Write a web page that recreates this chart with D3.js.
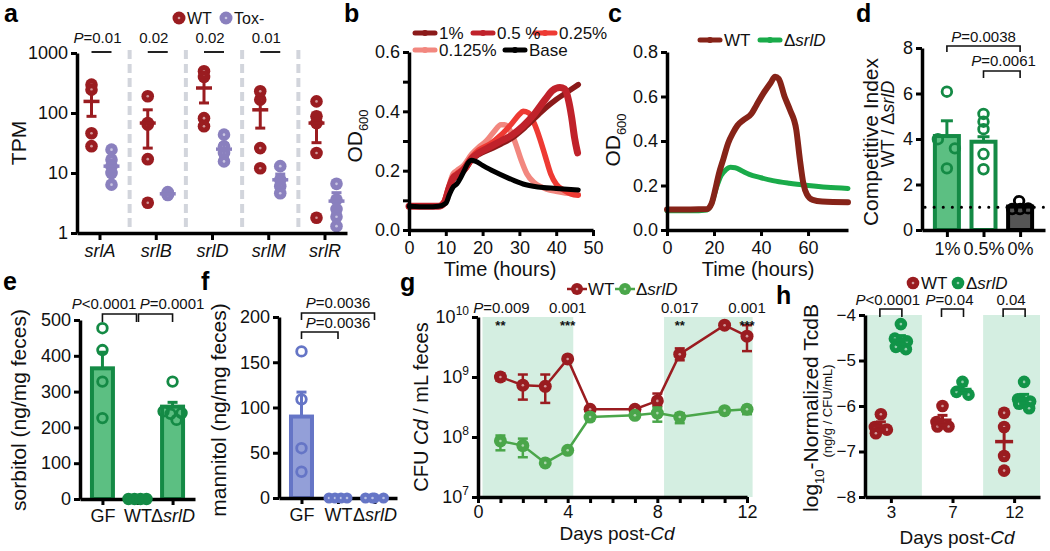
<!DOCTYPE html>
<html><head><meta charset="utf-8">
<script src="https://cdn.jsdelivr.net/npm/d3@7"></script>
<style>body{margin:0;background:#fff}</style>
</head><body><svg id="c" width="1050" height="551"></svg>
<script>
// ================= DATA =================
// panel a
const aGenes = ["srlA","srlB","srlD","srlM","srlR"];
const aWTPoints = [[297,245,46,28],[190,68,64,17,3.2],[495,400,82,60],[230,167,26,12],[156,88,68,21.5,1.8]];
const aWTMean = [156,68,261,113,68];
const aWTLo = [88,26,147,56,32];
const aWTHi = [224,113,400,175,100];
const aToxPoints = [[24.5,16.7,13,10,6.4],[4.8,4.6,4.4,4.3],[43.6,27.8,21.5,15.6],[13,7.7,6,4.6],[6.6,3.6,2.5,1.87,1.3]];
const aToxMean = [13,4.5,25,7.7,3.4];
const aToxLo = [9.5,4.3,19,5.8,2.1];
const aToxHi = [16.5,4.7,31,9.6,4.7];
const aP = ["P=0.01","0.02","0.02","0.01"];
const aYTicks = [1,10,100,1000];

// panel b
const bSeries = ["1%","0.5 %","0.25%","0.125%","Base"];
const b1 = [[0,0.08],[8,0.08],[9.5,0.09],[11,0.14],[12,0.17],[13,0.18],[15,0.2],[17,0.235],[19,0.255],[22,0.272],[25,0.29],[28,0.31],[31,0.34],[34,0.375],[37,0.41],[40,0.44],[43,0.465],[46,0.49]];
const b05 = [[0,0.08],[8,0.08],[9.5,0.09],[11,0.145],[12,0.175],[13,0.185],[15,0.205],[17,0.24],[19,0.26],[22,0.28],[25,0.3],[28,0.32],[31,0.35],[34,0.39],[37,0.44],[39,0.47],[41,0.48],[42.3,0.475],[43.3,0.44],[44.2,0.38],[45,0.31],[45.8,0.26]];
const b025 = [[0,0.08],[8,0.08],[9.5,0.095],[11,0.15],[12,0.18],[13,0.19],[15,0.21],[17,0.245],[19,0.27],[22,0.29],[25,0.32],[28,0.36],[30,0.39],[31,0.4],[32.5,0.395],[34,0.36],[35.5,0.31],[37,0.25],[38.5,0.19],[40,0.155],[42,0.135],[44,0.122],[46,0.117]];
const b0125 = [[0,0.08],[8,0.08],[9.5,0.095],[11,0.155],[12,0.19],[13,0.2],[15,0.22],[17,0.255],[19,0.28],[21,0.3],[23,0.33],[25,0.355],[26,0.355],[27.5,0.335],[29,0.29],[30.5,0.235],[32,0.19],[34,0.16],[36,0.145],[40,0.13],[46,0.12]];
const bBase = [[0,0.08],[5,0.078],[8,0.08],[10,0.09],[11,0.12],[12,0.145],[13,0.155],[14,0.175],[15,0.2],[16,0.225],[17,0.235],[18,0.232],[20,0.218],[23,0.198],[27,0.175],[31,0.155],[35,0.145],[40,0.14],[46,0.135]];
const bXTicks = [0,10,20,30,40,50];
const bYTicks = [0,0.1,0.2,0.3,0.4,0.5,0.6];

// panel c
const cWT = [[0,0.092],[10,0.092],[17,0.094],[19,0.12],[20.5,0.18],[22,0.25],[24,0.32],[26,0.39],[28,0.435],[30,0.47],[32.5,0.494],[36,0.524],[38,0.56],[41,0.614],[44,0.66],[46,0.689],[47.5,0.68],[50,0.6],[52.3,0.54],[55,0.45],[56.5,0.32],[58,0.21],[59.5,0.16],[62,0.135],[66,0.128],[77,0.125]];
const cKO = [[0,0.086],[10,0.086],[17,0.09],[19,0.12],[21,0.19],[23,0.245],[25,0.27],[27,0.282],[29,0.28],[32,0.265],[35,0.25],[40,0.235],[45,0.222],[52,0.21],[60,0.2],[68,0.192],[77,0.187]];
const cXTicks = [0,20,40,60];
const cYTicks = [0,0.2,0.4,0.6,0.8];

// panel d
const dCats = ["1%","0.5%","0%"];
const dMean = [4.13,3.88,1.03];
const dHi = [4.8,4.1,1.1];
const dPoints = [[6.08,3.99,3.59,2.71],[5.1,4.76,4.43,3.34,2.67],[1.27,0.92,0.92,0.95]];
const dYTicks = [0,2,4,6,8];

// panel e
const eCats = ["GF","WT","ΔsrlD"];
const eMean = [365,0,258];
const eHi = [410,0,270];
const ePoints = [[477,416,328,226],[0,0,0,0],[328,245,240,238,221]];
const eYTicks = [0,100,200,300,400,500];

// panel f
const fCats = ["GF","WT","ΔsrlD"];
const fMean = [90,0,0];
const fHi = [117,0,0];
const fPoints = [[162,109,55,29],[0,0,0,0],[0,0,0,0]];
const fYTicks = [0,50,100,150,200];

// panel g
const gDays = [1,2,3,4,5,7,8,9,11,12];
const gWT = [1.0e9,7.3e8,7.0e8,2.0e9,2.9e8,2.9e8,4.0e8,2.4e9,7.3e9,4.8e9];
const gWTHi = [1.15e9,1.1e9,1.1e9,2.1e9,3.0e8,3.0e8,5.3e8,3.0e9,7.6e9,7.3e9];
const gWTLo = [0.87e9,4.2e8,3.7e8,1.9e9,2.7e8,2.8e8,3.3e8,1.9e9,7.0e9,2.7e9];
const gKO = [8.6e7,7.2e7,3.7e7,6.0e7,2.15e8,2.3e8,2.5e8,2.15e8,2.75e8,2.9e8];
const gKOHi = [1.06e8,9.4e7,3.9e7,6.3e7,2.5e8,2.4e8,3.1e8,2.5e8,2.85e8,3.3e8];
const gKOLo = [6.0e7,4.6e7,3.5e7,5.7e7,1.9e8,2.2e8,1.8e8,1.7e8,2.65e8,2.4e8];
const gShade = [[0.2,4.25],[8.3,12.25]];
const gPDays = [1,4,9,12];
const gP = ["P=0.009","0.001","0.017","0.001"];
const gStars = ["**","***","**","***"];
const gYTicks = [7,8,9,10];

// panel h
const hDays = ["3","7","12"];
const hWT = [[-6.18,-6.46,-6.52,-6.6],[-6.0,-6.35,-6.45,-6.45],[-6.15,-6.46,-7.1,-7.42]];
const hKO = [[-4.2,-4.52,-4.58,-4.7,-4.75],[-5.47,-5.69,-5.75],[-5.47,-5.85,-5.9,-5.95,-6.05]];
const hShadeDays = ["3","12"];
const hP = ["P<0.0001","P=0.04","0.04"];
const hYTicks = [-8,-7,-6,-5,-4];

// ================= STYLE =================
const FAM = '"Liberation Sans", Arial, Helvetica, sans-serif';
const TF = 17;
const C = {wt:"#9a1c20", tox:"#8a80be", grn:"#148a45", grnL:"#5cbf82", blu:"#6575c6", bluL:"#939fd8",
  gGrn:"#4aa64a", hGrn:"#119448", shade:"#d4eee1", sep:"#d2d5dc",
  b1:"#8b1a1a", b05:"#c0222b", b025:"#ee3a33", b0125:"#f2877f", base:"#000",
  cWT:"#862318", cKO:"#1aab4a"};

const svg = d3.select("#c").attr("font-family", FAM);

function styleAxis(g, fs){
  g.attr("font-family", FAM).attr("font-size", fs||TF);
  g.select(".domain").attr("stroke","#000").attr("stroke-width",3.5);
  g.selectAll(".tick line").attr("stroke","#000").attr("stroke-width",3);
  g.selectAll(".tick text").attr("fill","#111");
  return g;
}
function rich(t, parts){
  parts.forEach(p=>{
    const ts = t.append("tspan").text(p.t);
    if (p.i) ts.attr("font-style","italic");
    if (p.dy) ts.attr("dy", p.dy);
    if (p.fs) ts.attr("font-size", p.fs);
  });
  return t;
}
function koParts(){ return [{t:"Δ"},{t:"srlD",i:true}]; }
function pParts(s){ return s.startsWith("P") ? [{t:"P",i:true},{t:s.slice(1)}] : [{t:s}]; }
function label(x,y,s,fs,anchor){
  return svg.append("text").attr("x",x).attr("y",y).attr("font-size",fs).attr("text-anchor",anchor||"middle").attr("fill","#111");
}
function vlabel(x,y,fs){
  return svg.append("text").attr("transform",`translate(${x},${y}) rotate(-90)`).attr("font-size",fs).attr("text-anchor","middle").attr("fill","#111");
}
function dotPt(g,x,y,r,col){
  g.append("circle").attr("cx",x).attr("cy",y).attr("r",r).attr("fill",col);
  g.append("circle").attr("cx",x).attr("cy",y).attr("r",1.3).attr("fill","#fff").attr("opacity",0.55);
}
function meanErr(g,x,m,lo,hi,col,w){
  g.append("line").attr("x1",x).attr("x2",x).attr("y1",lo).attr("y2",hi).attr("stroke",col).attr("stroke-width",3);
  [lo,hi].forEach(v=>g.append("line").attr("x1",x-5).attr("x2",x+5).attr("y1",v).attr("y2",v).attr("stroke",col).attr("stroke-width",3));
  g.append("line").attr("x1",x-w).attr("x2",x+w).attr("y1",m).attr("y2",m).attr("stroke",col).attr("stroke-width",3.5);
}
function bracket(x1,x2,y,leg){
  svg.append("path").attr("d",`M${x1},${y+leg}V${y}H${x2}V${y+leg}`).attr("fill","none").attr("stroke","#111").attr("stroke-width",1.6);
}
// panel letters
[["a",4,22],["b",344,22],["c",608,22],["d",856,22],["e",3,290],["f",201,290],["g",400,291],["h",776,304]].forEach(([s,x,y])=>
  label(x,y,s,25,"start").attr("font-weight","bold").attr("fill","#000").text(s));

// ================= PANEL A =================
{
  const y = d3.scaleLog().domain([1,1000]).range([233,53]);
  const x = d3.scalePoint().domain(aGenes).range([77,347]).padding(0.4);
  const g = svg.append("g");
  for (let i=1;i<aGenes.length;i++){
    const xm = (x(aGenes[i-1])+x(aGenes[i]))/2 + 2;
    g.append("line").attr("x1",xm).attr("x2",xm).attr("y1",50).attr("y2",231)
      .attr("stroke",C.sep).attr("stroke-width",4).attr("stroke-dasharray","9,5");
  }
  aGenes.forEach((gn,i)=>{
    const xw = x(gn)-8, xt = x(gn)+12;
    aWTPoints[i].forEach(v=>dotPt(g,xw,y(v),6.3,C.wt));
    aToxPoints[i].forEach(v=>dotPt(g,xt,y(v),6.3,C.tox));
    meanErr(g,xw,y(aWTMean[i]),y(aWTLo[i]),y(aWTHi[i]),C.wt,8);
    meanErr(g,xt,y(aToxMean[i]),y(aToxLo[i]),y(aToxHi[i]),C.tox,8);
  });
  const ya = g.append("g").attr("transform","translate(77,0)")
    .call(d3.axisLeft(y).tickValues(aYTicks).tickFormat(d3.format("d")).tickSize(6).tickPadding(3).tickSizeOuter(0));
  styleAxis(ya,18);
  const xa = g.append("g").attr("transform","translate(0,233)")
    .call(d3.axisBottom(x).tickSize(7).tickPadding(4).tickSizeOuter(0));
  styleAxis(xa,18); xa.selectAll(".tick text").attr("font-style","italic");
  aGenes.slice(0,4).forEach((gn,i)=>{
    const xw = x(gn)-8, xt = x(gn)+12;
    g.append("line").attr("x1",xw).attr("x2",xt).attr("y1",52).attr("y2",52).attr("stroke","#222").attr("stroke-width",2);
    rich(label(x(gn)-2,43,"",15), pParts(aP[i]));
  });
  rich(vlabel(26,143,21),[{t:"TPM"}]);
  dotPt(g,179,18,6.5,C.wt); label(187,24,"",16,"start").text("WT");
  dotPt(g,226,18,6.5,C.tox); label(234,24,"",16,"start").text("Tox-");
}

// ================= PANEL B =================
{
  const x = d3.scaleLinear().domain([0,50]).range([409,593]);
  const y = d3.scaleLinear().domain([0,0.6]).range([230,52]);
  const g = svg.append("g");
  const line = d3.line().x(d=>x(d[0])).y(d=>y(d[1])).curve(d3.curveMonotoneX);
  const series = [[b0125,C.b0125,5.5],[b025,C.b025,5.5],[b1,C.b1,5.5],[b05,C.b05,7],[bBase,C.base,5]];
  series.forEach(([d,col,w])=>g.append("path").datum(d).attr("d",line).attr("fill","none")
    .attr("stroke",col).attr("stroke-width",w).attr("stroke-linejoin","round").attr("stroke-linecap","round"));
  const ya = g.append("g").attr("transform","translate(409,0)")
    .call(d3.axisLeft(y).tickValues(bYTicks).tickFormat(d=>([0,0.2,0.4,0.6].some(v=>Math.abs(v-d)<1e-9)?d3.format(".1f")(d):"")).tickSize(6).tickPadding(3).tickSizeOuter(0));
  styleAxis(ya,18);
  const xa = g.append("g").attr("transform","translate(0,230)")
    .call(d3.axisBottom(x).tickValues(bXTicks).tickSize(6).tickPadding(5).tickSizeOuter(0));
  styleAxis(xa,18);
  label(500,276,"",20).text("Time (hours)");
  rich(vlabel(362,136,21),[{t:"OD"},{t:"600",dy:6,fs:13}]);
  const leg = [[bSeries[0],C.b1,415,33],[bSeries[1],C.b05,473,33],[bSeries[2],C.b025,535,33],[bSeries[3],C.b0125,415,50],[bSeries[4],C.base,505,50]];
  leg.forEach(([s,col,lx,ly])=>{
    g.append("line").attr("x1",lx).attr("x2",lx+20).attr("y1",ly).attr("y2",ly).attr("stroke",col).attr("stroke-width",5).attr("stroke-linecap","round");
    g.append("circle").attr("cx",lx+10).attr("cy",ly).attr("r",3).attr("fill",col);
    label(lx+24,ly+6,"",17,"start").text(s);
  });
}

// ================= PANEL C =================
{
  const x = d3.scaleLinear().domain([0,77]).range([667,848]);
  const y = d3.scaleLinear().domain([0,0.8]).range([230,52]);
  const g = svg.append("g");
  const line = d3.line().x(d=>x(d[0])).y(d=>y(d[1])).curve(d3.curveMonotoneX);
  g.append("path").datum(cKO).attr("d",line).attr("fill","none").attr("stroke",C.cKO).attr("stroke-width",5).attr("stroke-linecap","round");
  g.append("path").datum(cWT).attr("d",line).attr("fill","none").attr("stroke",C.cWT).attr("stroke-width",6).attr("stroke-linecap","round").attr("stroke-linejoin","round");
  const ya = g.append("g").attr("transform","translate(667,0)")
    .call(d3.axisLeft(y).tickValues(cYTicks).tickFormat(d3.format(".1f")).tickSize(6).tickPadding(3).tickSizeOuter(0));
  styleAxis(ya,18);
  const xa = g.append("g").attr("transform","translate(0,230)")
    .call(d3.axisBottom(x).tickValues(cXTicks).tickSize(6).tickPadding(5).tickSizeOuter(0));
  styleAxis(xa,18);
  label(758,276,"",20).text("Time (hours)");
  rich(vlabel(620,140,21),[{t:"OD"},{t:"600",dy:6,fs:13}]);
  [[C.cWT,700,"WT"],[C.cKO,760,null]].forEach(([col,lx,s])=>{
    g.append("line").attr("x1",lx).attr("x2",lx+20).attr("y1",40).attr("y2",40).attr("stroke",col).attr("stroke-width",5).attr("stroke-linecap","round");
    g.append("circle").attr("cx",lx+10).attr("cy",40).attr("r",3).attr("fill",col);
    const t = label(lx+24,46,"",17,"start");
    if (s) t.text(s); else rich(t,koParts());
  });
}

// ================= PANEL D =================
{
  const x = d3.scalePoint().domain(dCats).range([922,1045]).padding(0.68);
  const y = d3.scaleLinear().domain([0,8]).range([230,48]);
  const g = svg.append("g");
  const bw = 27;
  const fills = [C.grnL,"#fff","#555"], strokes = [C.grn,C.grn,"#000"];
  dCats.forEach((c,i)=>{
    g.append("line").attr("x1",x(c)).attr("x2",x(c)).attr("y1",y(dMean[i])).attr("y2",y(dHi[i])).attr("stroke",strokes[i]).attr("stroke-width",3);
    g.append("line").attr("x1",x(c)-6).attr("x2",x(c)+6).attr("y1",y(dHi[i])).attr("y2",y(dHi[i])).attr("stroke",strokes[i]).attr("stroke-width",3);
    g.append("rect").attr("x",x(c)-bw/2+1.5).attr("y",y(dMean[i])).attr("width",bw-3).attr("height",y(0)-y(dMean[i]))
      .attr("fill",fills[i]).attr("stroke",strokes[i]).attr("stroke-width",4);
  });
  g.append("line").attr("x1",925).attr("x2",1048).attr("y1",y(1)).attr("y2",y(1)).attr("stroke","#000").attr("stroke-width",3).attr("stroke-dasharray","0.1,9").attr("stroke-linecap","round");
  const offs = [[0,-9,8,0],[0,0,0,0,0],[-1,-8,0,8]];
  dCats.forEach((c,i)=>dPoints[i].forEach((v,j)=>
    g.append("circle").attr("cx",x(c)+offs[i][j]).attr("cy",y(v)).attr("r",4.8).attr("fill","none").attr("stroke",strokes[i]).attr("stroke-width",2.8)));
  const ya = g.append("g").attr("transform","translate(922,0)")
    .call(d3.axisLeft(y).tickValues(dYTicks).tickSize(6).tickPadding(3).tickSizeOuter(0));
  styleAxis(ya,18);
  const xa = g.append("g").attr("transform","translate(0,230)")
    .call(d3.axisBottom(x).tickSize(7).tickPadding(5).tickSizeOuter(0));
  styleAxis(xa,18);
  rich(vlabel(878,142,21),[{t:"Competitive Index"}]);
  rich(vlabel(894,124,18),[{t:"WT / Δ"},{t:"srlD",i:true}]);
  bracket(x(dCats[0]),x(dCats[2]),46,6);
  rich(label((x(dCats[0])+x(dCats[2]))/2,42,"",15),pParts("P=0.0038"));
  bracket(x(dCats[1]),x(dCats[2]),71,7);
  rich(label(x(dCats[1])+20,66,"",15),pParts("P=0.0061"));
}

// ================= PANEL E / F =================
function barPanel(cats,mean,hi,pts,ticks,dom,rng,xr,pad,fillC,strokeC,filledZero,ylab,ylx){
  const x = d3.scalePoint().domain(cats).range(xr).padding(pad);
  const y = d3.scaleLinear().domain(dom).range(rng);
  const g = svg.append("g");
  const bw = 25;
  cats.forEach((c,i)=>{
    if (mean[i]>0){
      g.append("line").attr("x1",x(c)).attr("x2",x(c)).attr("y1",y(mean[i])).attr("y2",y(hi[i])).attr("stroke",strokeC).attr("stroke-width",3);
      g.append("line").attr("x1",x(c)-5).attr("x2",x(c)+5).attr("y1",y(hi[i])).attr("y2",y(hi[i])).attr("stroke",strokeC).attr("stroke-width",3);
      g.append("rect").attr("x",x(c)-bw/2+2).attr("y",y(mean[i])).attr("width",bw-4).attr("height",y(0)-y(mean[i]))
        .attr("fill",fillC).attr("stroke",strokeC).attr("stroke-width",4);
    }
  });
  const ya = g.append("g").attr("transform",`translate(${xr[0]},0)`)
    .call(d3.axisLeft(y).tickValues(ticks).tickSize(6).tickPadding(3).tickSizeOuter(0));
  styleAxis(ya,18);
  const xa = g.append("g").attr("transform",`translate(0,${rng[0]})`)
    .call(d3.axisBottom(x).tickSize(6).tickPadding(4).tickSizeOuter(0));
  styleAxis(xa,18);
  xa.selectAll(".tick text").each(function(d){ if (d.startsWith("Δ")){ const t=d3.select(this); t.text(""); rich(t,koParts()); } });
  const offsAll = [[0,0,0,0,0],[-9,-3,3,9],[0,-9,9,-2,4]];
  cats.forEach((c,i)=>pts[i].forEach((v,j)=>{
    const cx = x(c)+(i===0?0:offsAll[i][j]);
    if (v===0 && filledZero) dotPt(g,cx,y(v),5.5,strokeC);
    else g.append("circle").attr("cx",cx).attr("cy",y(v)).attr("r",4.8).attr("fill",v===0?strokeC:"none").attr("stroke",strokeC).attr("stroke-width",2.8);
  }));
  rich(vlabel(ylx,410,21),ylab);
  return x;
}
{
  const x = barPanel(eCats,eMean,eHi,ePoints,eYTicks,[0,500],[499,320],[80,195],0.64,C.grnL,C.grn,false,[{t:"sorbitol (ng/mg feces)"}],26);
  bracket(x(eCats[0]),x(eCats[1])-1,314,8);
  bracket(x(eCats[1])+1,x(eCats[2]),314,8);
  rich(label(104,309,"",15),pParts("P<0.0001"));
  rich(label(172,309,"",15),pParts("P=0.0001"));
}
{
  const x = barPanel(fCats,fMean,fHi,fPoints,fYTicks,[0,200],[498,317],[279,397],0.616,C.bluL,C.blu,true,[{t:"mannitol (ng/mg feces)"}],226);
  bracket(x(fCats[0]),x(fCats[2]),313,7);
  rich(label((x(fCats[0])+x(fCats[2]))/2,308,"",15),pParts("P=0.0036"));
  bracket(x(fCats[0]),x(fCats[1]),332,7);
  rich(label((x(fCats[0])+x(fCats[2]))/2,328,"",15),pParts("P=0.0036"));
}

// ================= PANEL G =================
{
  const x = d3.scaleLinear().domain([0,12]).range([478,747]);
  const y = d3.scaleLog().domain([1e7,1e10]).range([497,317]);
  const g = svg.append("g");
  gShade.forEach(([a,b])=>g.append("rect").attr("x",x(a)).attr("width",x(b)-x(a)).attr("y",317).attr("height",180).attr("fill",C.shade));
  const line = d3.line().x((d,i)=>x(gDays[i])).y(d=>y(d));
  [[gWT,gWTLo,gWTHi,C.wt],[gKO,gKOLo,gKOHi,C.gGrn]].forEach(([m,lo,hi,col])=>{
    g.append("path").datum(m).attr("d",line).attr("fill","none").attr("stroke",col).attr("stroke-width",2.5);
    gDays.forEach((d,i)=>{
      const cx=x(d);
      g.append("line").attr("x1",cx).attr("x2",cx).attr("y1",y(lo[i])).attr("y2",y(hi[i])).attr("stroke",col).attr("stroke-width",2.5);
      [lo[i],hi[i]].forEach(v=>g.append("line").attr("x1",cx-5).attr("x2",cx+5).attr("y1",y(v)).attr("y2",y(v)).attr("stroke",col).attr("stroke-width",2.5));
      dotPt(g,cx,y(m[i]),6.5,col);
    });
  });
  const ya = g.append("g").attr("transform","translate(478,0)")
    .call(d3.axisLeft(y).tickValues(gYTicks.map(e=>Math.pow(10,e))).tickFormat(()=> "").tickSize(6).tickPadding(3).tickSizeOuter(0));
  styleAxis(ya,18);
  ya.selectAll(".tick text").each(function(d){
    const t=d3.select(this); const e=Math.round(Math.log10(d));
    t.text(""); t.append("tspan").text("10"); t.append("tspan").attr("dy",-8).attr("font-size",12).text(e);
  });
  const xa = g.append("g").attr("transform","translate(0,497)")
    .call(d3.axisBottom(x).tickValues(d3.range(0,13)).tickFormat(d=>d%4===0?d:"").tickSize(6).tickPadding(2).tickSizeOuter(0));
  styleAxis(xa,18);
  gPDays.forEach((d,i)=>{
    rich(label(x(d)+(i===0?1:0),313,"",15),pParts(gP[i]));
    label(x(d),330,"",13).attr("font-weight","bold").text(gStars[i]);
  });
  rich(label(617,540,"",19),[{t:"Days post-"},{t:"Cd",i:true}]);
  rich(vlabel(428,407,20),[{t:"CFU "},{t:"Cd",i:true},{t:" / mL feces"}]);
  [[C.wt,577,"WT"],[C.gGrn,625,null]].forEach(([col,cx,s])=>{
    g.append("line").attr("x1",cx-10).attr("x2",cx+10).attr("y1",289).attr("y2",289).attr("stroke",col).attr("stroke-width",2.5);
    dotPt(g,cx,289,6,col);
    const t = label(cx+11,295,"",17,"start");
    if (s) t.text(s); else rich(t,koParts());
  });
}

// ================= PANEL H =================
{
  const x = d3.scalePoint().domain(hDays).range([865,1040]).padding(0.42);
  const y = d3.scaleLinear().domain([-8,-4]).range([497,315]);
  const g = svg.append("g");
  hShadeDays.forEach(d=>{
    const x0 = Math.max(867, x(d)-31), x1 = Math.min(1040, x(d)+31);
    g.append("rect").attr("x",x0).attr("width",x1-x0).attr("y",315).attr("height",182).attr("fill",C.shade);
  });
  const jit = [0,-6,6,-5,5];
  hDays.forEach((d,i)=>{
    const xw=x(d)-10, xk=x(d)+10;
    [[hWT[i],xw,C.wt,i<2],[hKO[i],xk,C.hGrn,true]].forEach(([vals,cx,col,spread])=>{
      vals.forEach((v,j)=>dotPt(g,cx+(spread?jit[j%5]:0),y(v),6.3,col));
      const m=d3.mean(vals), se=d3.deviation(vals)/Math.sqrt(vals.length);
      meanErr(g,cx,y(m),y(m-se),y(m+se),col,9);
    });
  });
  const ya = g.append("g").attr("transform","translate(865,0)")
    .call(d3.axisLeft(y).tickValues(hYTicks).tickFormat(d3.format("d")).tickSize(6).tickPadding(3).tickSizeOuter(0));
  styleAxis(ya,17);
  const xa = g.append("g").attr("transform","translate(0,497)")
    .call(d3.axisBottom(x).tickSize(6).tickPadding(3).tickSizeOuter(0));
  styleAxis(xa,17);
  hDays.forEach((d,i)=>{
    bracket(x(d)-11,x(d)+11,309,8);
    rich(label(x(d)-3,305,"",15),pParts(hP[i]));
  });
  rich(label(957,544,"",19),[{t:"Days post-"},{t:"Cd",i:true}]);
  rich(vlabel(818,408,21),[{t:"log"},{t:"10",dy:6,fs:13},{t:"-Normalized TcdB",dy:-6}]);
  rich(vlabel(832,411,13),[{t:"(ng/g / CFU/mL)"}]);
  dotPt(g,913,283,6.3,C.wt); label(921,289,"",17,"start").text("WT");
  dotPt(g,958,283,6.3,C.hGrn); rich(label(966,289,"",17,"start"),koParts());
}
</script></body></html>
